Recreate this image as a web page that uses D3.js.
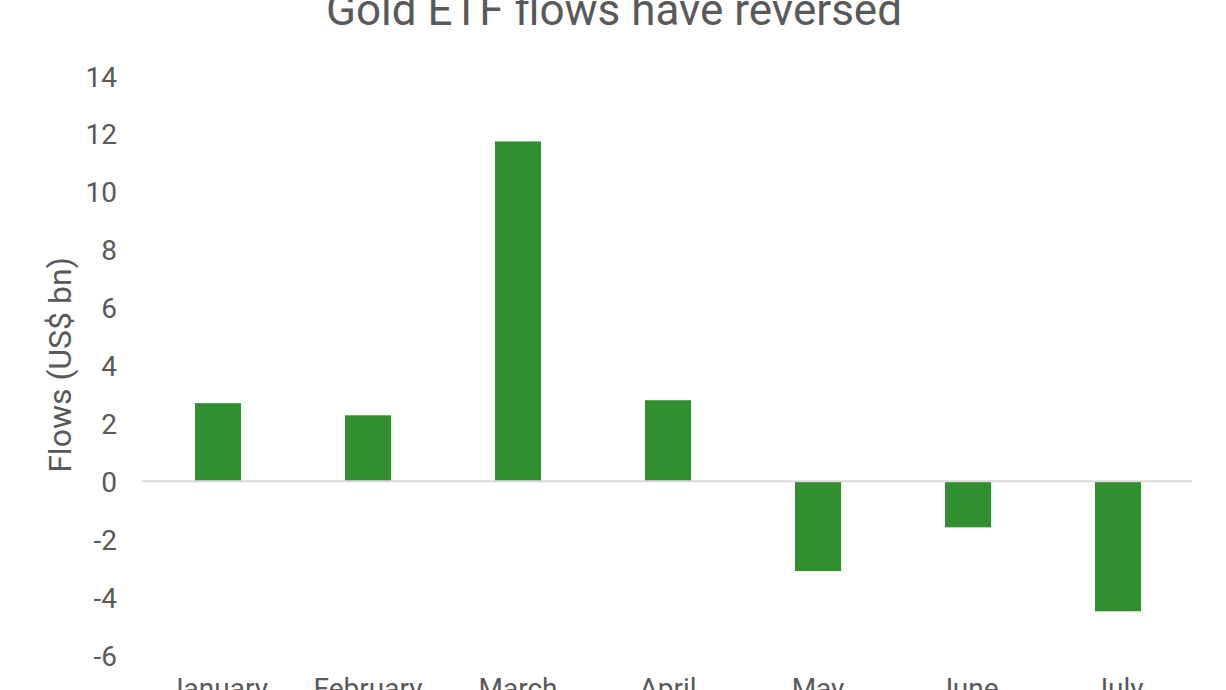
<!DOCTYPE html>
<html><head><meta charset="utf-8">
<script src="https://cdn.jsdelivr.net/npm/d3@7"></script>
<style>body{margin:0;background:#fff}svg{display:block}</style>
</head><body>
<svg id="c" width="1226" height="690"></svg>
<script>
const categories = ["January","February","March","April","May","June","July"];
const flows = [2.7, 2.28, 11.74, 2.8, -3.1, -1.59, -4.49];
const yTicks = [-6,-4,-2,0,2,4,6,8,10,12,14];
const title = "Gold ETF flows have reversed";
const yTitle = "Flows (US$ bn)";

const svg = d3.select("#c");
const font = "Roboto, 'Liberation Sans', sans-serif";
const txt = "#595959";

const x = d3.scaleBand().domain(categories).range([143, 1193]).paddingInner(0.693).paddingOuter(0.3465);
const y = d3.scaleLinear().domain([-6, 14]).range([655, 76]);

// title
svg.append("text").attr("x", 614).attr("y", 25).attr("text-anchor", "middle")
  .attr("font-family", font).attr("font-size", 44).attr("fill", txt).text(title);

// y axis labels
const yAxis = d3.axisLeft(y).tickValues(yTicks).tickSize(0).tickPadding(0).tickFormat(d => String(d));
const gy = svg.append("g").attr("transform", "translate(117,0)").call(yAxis);
gy.select(".domain").remove();
gy.selectAll("text").attr("font-family", font).attr("font-size", 28).attr("fill", txt).attr("dy", "0.36em");

// y title
svg.append("text").attr("transform", "translate(71,365) rotate(-90)").attr("text-anchor", "middle")
  .attr("font-family", font).attr("font-size", 32).attr("fill", txt).text(yTitle);

// bars
svg.append("g").selectAll("rect").data(categories).join("rect")
  .attr("x", d => x(d))
  .attr("width", x.bandwidth())
  .attr("y", (d,i) => y(Math.max(0, flows[i])))
  .attr("height", (d,i) => Math.abs(y(flows[i]) - y(0)))
  .attr("fill", "#318f2f");

// zero line
svg.append("line").attr("x1", 142).attr("x2", 1192).attr("y1", y(0)).attr("y2", y(0))
  .attr("stroke", "#d9d9d9").attr("stroke-width", 2);

// x labels
const xAxis = d3.axisBottom(x).tickSize(0).tickPadding(0);
const gx = svg.append("g").attr("transform", "translate(0,698)").call(xAxis);
gx.select(".domain").remove();
gx.selectAll("text").attr("font-family", font).attr("font-size", 28).attr("fill", txt).attr("dy", 0);
</script>
</body></html>
